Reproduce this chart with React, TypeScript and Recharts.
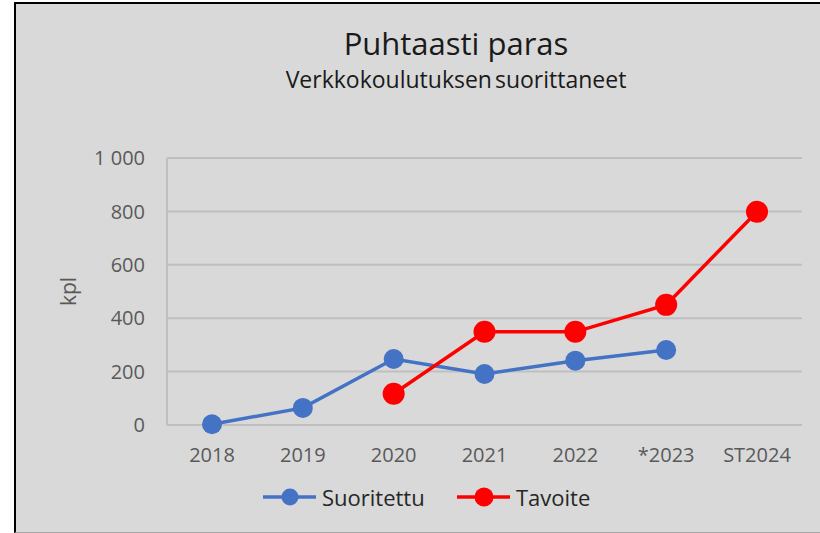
import React from 'react';
import { LineChart, Line, XAxis, YAxis, CartesianGrid } from 'recharts';

const categories = ['2018', '2019', '2020', '2021', '2022', '*2023', 'ST2024'];
const suoritettu: (number | null)[] = [3, 64, 247, 191, 241, 281, null];
const tavoite: (number | null)[] = [null, null, 117, 349, 349, 450, 799];
const yTicks = [0, 200, 400, 600, 800, 1000];
const seriesNames = ['Suoritettu', 'Tavoite'];

const data = categories.map((c, i) => ({ year: c, Suoritettu: suoritettu[i], Tavoite: tavoite[i] }));

const BLUE = '#4472C4';
const RED = '#FF0000';
const FONT = '"Open Sans", sans-serif';

const fmt = (v: number) => (v >= 1000 ? `${Math.floor(v / 1000)} ${String(v % 1000).padStart(3, '0')}` : String(v));

const LegendItem = ({ color, label, r, left }: { color: string; label: string; r: number; left: number }) => (
  <div style={{ position: 'absolute', left, top: 485, display: 'flex', alignItems: 'center' }}>
    <svg width={56} height={24}>
      <line x1={1} y1={12} x2={54} y2={12} stroke={color} strokeWidth={3.5} />
      <circle cx={28} cy={12} r={r} fill={color} />
    </svg>
    <span style={{ fontSize: 22, color: '#262626', marginLeft: 4, fontFamily: FONT, lineHeight: '24px' }}>{label}</span>
  </div>
);

export default function App() {
  return (
    <div style={{ position: 'absolute', left: 0, top: 0, width: 820, height: 533, background: '#fff', fontFamily: FONT }}>
      <div
        style={{
          position: 'absolute',
          left: 14,
          top: 2,
          width: 806,
          height: 531,
          boxSizing: 'border-box',
          background: '#d9d9d9',
          borderLeft: '2px solid #000',
          borderTop: '2px solid #000',
          borderBottom: '1px solid #a6a6a6',
        }}
      />
      <div style={{ position: 'absolute', left: 206, width: 500, top: 22, textAlign: 'center', fontSize: 31, color: '#1a1a1a', lineHeight: '42px', whiteSpace: 'nowrap' }}>
        Puhtaasti paras
      </div>
      <div style={{ position: 'absolute', left: 156, width: 600, top: 63, textAlign: 'center', fontSize: 23, color: '#1a1a1a', lineHeight: '32px', wordSpacing: -3, whiteSpace: 'nowrap' }}>
        Verkkokoulutuksen suorittaneet
      </div>
      <div style={{ position: 'absolute', left: 0, top: 0 }}>
        <LineChart width={820} height={533} data={data} margin={{ top: 158, right: 18, left: 57, bottom: 78 }}>
          <CartesianGrid vertical={false} stroke="#bfbfbf" strokeWidth={2} />
          <XAxis
            dataKey="year"
            padding={{ left: 45, right: 45 }}
            axisLine={{ stroke: '#bfbfbf', strokeWidth: 2 }}
            tickLine={false}
            tickSize={0}
            tickMargin={23}
            height={30}
            tick={{ fill: '#595959', fontSize: 20, fontFamily: FONT }}
            interval={0}
          />
          <YAxis
            domain={[0, 1000]}
            ticks={yTicks}
            width={110}
            axisLine={{ stroke: '#bfbfbf', strokeWidth: 2 }}
            tickLine={false}
            tickSize={0}
            tickMargin={22}
            tickFormatter={fmt}
            tick={{ fill: '#595959', fontSize: 20, fontFamily: FONT }}
            label={{ value: 'kpl', angle: -90, position: 'insideLeft', offset: 12, style: { textAnchor: 'middle', fill: '#595959', fontSize: 21, fontFamily: FONT } }}
          />
          <Line
            dataKey="Suoritettu"
            stroke={BLUE}
            strokeWidth={3.5}
            dot={{ r: 10, fill: BLUE, stroke: BLUE, strokeWidth: 0 }}
            isAnimationActive={false}
            connectNulls={false}
          />
          <Line
            dataKey="Tavoite"
            stroke={RED}
            strokeWidth={3.5}
            dot={{ r: 11, fill: RED, stroke: RED, strokeWidth: 0 }}
            isAnimationActive={false}
            connectNulls={false}
          />
        </LineChart>
      </div>
      <LegendItem color={BLUE} label={seriesNames[0]} r={8.5} left={262} />
      <LegendItem color={RED} label={seriesNames[1]} r={9.5} left={456} />
    </div>
  );
}
